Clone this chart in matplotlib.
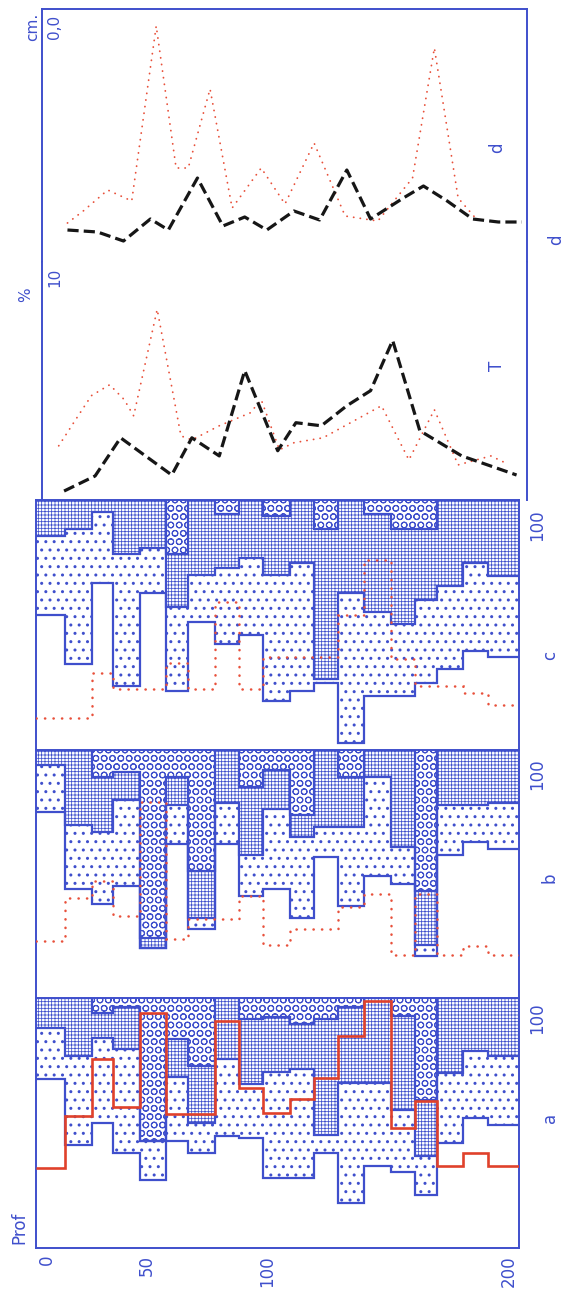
import matplotlib
matplotlib.use("Agg")
import matplotlib.pyplot as plt
from matplotlib.transforms import ScaledTranslation

W, H = 572, 1298
BLUE = "#3f4fcc"
RED = "#e0412b"
RED_DOT = "#e8503a"
BLACK = "#161616"

plt.rcParams["font.family"] = ["DejaVu Sans"]
plt.rcParams["hatch.linewidth"] = 0.7
plt.rcParams["hatch.color"] = BLUE

# depth limits of the sampled layers (cm)
edges = [0, 12, 23, 32, 43, 54, 63, 74, 84, 94, 105, 115, 125, 136, 147, 157, 166, 177, 187, 200]

# profile a: cumulative lower limits (%) of the circle, grid and dot classes
a_circ = [100, 100, 94.0, 96.3, 42.7, 83.8, 72.8, 100, 91.6, 92.6, 89.5, 91.6, 96.3, 100, 92.9, 59.4, 100, 100, 100]
a_grid = [88.2, 76.8, 84.2, 79.5, 42.7, 68.5, 50.1, 75.5, 65.5, 70.4, 71.5, 45.4, 66.2, 66.2, 55.4, 36.7, 70.2, 78.8, 76.9]
a_dots = [67.5, 41.4, 50.1, 38.0, 27.3, 42.7, 38.0, 44.7, 44.0, 28.0, 28.0, 38.0, 17.9, 32.7, 30.6, 21.3, 42.1, 52.1, 49.4]
a_red = [32, 53, 75.5, 56.5, 94, 53.5, 53.5, 91, 64, 54, 59.5, 68, 85, 99, 48, 59, 33, 38, 33]

# profile b
b_circ = [100, 100, 89.3, 91.3, 24.3, 89.3, 51.4, 100, 85.2, 92.0, 73.7, 100, 89.3, 100, 100, 43.2, 100, 100, 100]
b_grid = [94.0, 69.7, 67.0, 79.8, 20.0, 77.8, 32.4, 78.5, 57.5, 76.4, 64.9, 68.9, 68.9, 89.3, 60.8, 21.5, 77.8, 77.8, 78.5]
b_dots = [75.0, 44.0, 37.9, 45.3, 20.0, 62.2, 27.7, 62.2, 41.3, 44.0, 32.4, 56.8, 37.1, 49.3, 45.9, 16.8, 57.5, 62.9, 60.2]
b_red = [22.9, 40.5, 47.3, 33.0, 79.1, 23.6, 31.7, 31.7, 41.2, 21.2, 27.7, 27.7, 36.6, 41.9, 17.5, 41.9, 17.5, 20.9, 17.5]

# profile c
c_circ = [100, 100, 100, 100, 100, 78.3, 100, 94.5, 100, 93.8, 100, 88.4, 100, 94.5, 88.4, 88.4, 100, 100, 100]
c_grid = [85.7, 88.4, 95.1, 78.3, 81.0, 57.4, 70.2, 72.9, 76.9, 70.2, 74.9, 28.3, 62.8, 55.3, 50.6, 60.1, 65.5, 74.9, 69.5]
c_dots = [54.0, 34.4, 66.8, 25.6, 62.8, 23.6, 51.3, 42.5, 45.9, 19.6, 23.6, 27.0, 2.7, 21.6, 21.6, 27.0, 32.4, 39.8, 37.1]
c_red = [12.8, 12.8, 31.0, 24.3, 24.3, 35.0, 24.3, 59.4, 24.3, 37.1, 37.1, 37.1, 54.0, 76.1, 36.5, 25.6, 25.6, 22.9, 18.2]

# T curves (%)
t_depth = [9.1, 21.9, 32.4, 53.5, 61.8, 73.1, 83.6, 97.2, 104.7, 115.2, 125.7, 135.5, 144.6, 155.8, 173.1, 195.7]
t_black = [0.38, 1.02, 2.64, 1.06, 2.64, 1.87, 5.49, 2.09, 3.28, 3.15, 4.00, 4.64, 6.77, 2.94, 1.87, 1.06]
t_red_depth = [6.9, 15.2, 20.4, 27.9, 33.9, 37.8, 47.5, 57.3, 61.8, 73.1, 85.9, 90.4, 97.9, 103.9, 115.9,
               140.0, 151.3, 161.8, 171.6, 185.1, 191.2]
t_red = [2.30, 3.62, 4.43, 4.89, 4.26, 3.57, 8.09, 2.72, 2.55, 3.15, 3.70, 4.26, 2.13, 2.43, 2.64,
         4.00, 1.70, 3.83, 1.49, 1.87, 1.57]

# d curves (cm)
d_depth = [10.5, 22.9, 33.6, 44.7, 52.1, 64.1, 74.6, 83.6, 92.7, 103.9, 114.5, 125.7, 135.5, 149.0,
           157.3, 167.1, 177.6, 188.2, 197.9]
d_black = [2.21, 2.23, 2.32, 2.10, 2.21, 1.69, 2.17, 2.08, 2.21, 2.02, 2.11, 1.61, 2.10, 1.89,
           1.77, 1.92, 2.10, 2.13, 2.13]
d_red_depth = [10.5, 17.0, 27.1, 37.0, 47.1, 55.3, 60.3, 69.3, 78.4, 90.4, 100.2, 112.2, 125.0,
               138.5, 152.8, 161.8, 171.6, 179.1]
d_red = [2.14, 2.02, 1.81, 1.92, 0.17, 1.59, 1.59, 0.80, 1.99, 1.59, 1.95, 1.34, 2.07, 2.12,
         1.69, 0.39, 1.89, 2.10]

depth_ticks = [0, 50, 100, 200]


def box(x0, y0, x1, y1):
    return [x0 / W, 1 - y1 / H, (x1 - x0) / W, (y1 - y0) / H]


def ftext(x, y, s, size=12, **kw):
    fig.text(x / W, 1 - y / H, s, color=BLUE, fontsize=size, rotation=90,
             ha="center", va="center", **kw)


def frame(ax, bottom=False, top=True):
    ax.set_xlim(0, 200)
    ax.set_xticks([])
    ax.set_yticks([])
    for sp in ax.spines.values():
        sp.set_color(BLUE)
        sp.set_linewidth(1.4)
    ax.spines["bottom"].set_visible(bottom)
    ax.spines["top"].set_visible(top)


def layer(ax, upper, lower, hatch, hatch_lw):
    with plt.rc_context({"hatch.linewidth": hatch_lw}):
        ax.stairs(upper, edges, baseline=lower, fill=True, hatch=hatch, facecolor="white",
                  edgecolor=BLUE, linewidth=0, zorder=1)


def profile(ax, circ, grid, dots, red, red_style):
    frame(ax)
    ax.set_ylim(0, 100)
    top = [100] * len(circ)
    layer(ax, top, circ, "OO", 0.75)
    layer(ax, circ, grid, "+++++", 0.55)
    layer(ax, grid, dots, "..", 1.0)
    for lim in (circ, grid, dots):
        ax.stairs(lim, edges, baseline=None, color=BLUE, linewidth=1.6, zorder=2)
    if red_style == "solid":
        ax.stairs(red, edges, baseline=None, color=RED, linewidth=1.9, zorder=3)
    else:
        ax.stairs(red, edges, baseline=None, color=RED_DOT, linewidth=1.8,
                  linestyle=(0, (0.1, 3.3)), capstyle="round", zorder=3)


fig = plt.figure(figsize=(W / 100, H / 100), dpi=100)
fig.patch.set_facecolor("white")

# top box: d and T curves
ax_d = fig.add_axes(box(42, 9, 527, 262))
frame(ax_d, bottom=False, top=True)
ax_d.set_ylim(2.53, 0)
ax_d.plot(d_red_depth, d_red, color=RED_DOT, linewidth=1.3,
          linestyle=(0, (0.1, 3.6)), dash_capstyle="round", zorder=2)
ax_d.plot(d_depth, d_black, color=BLACK, linewidth=2.3,
          linestyle=(0, (3.5, 1.6)), zorder=3)

ax_t = fig.add_axes(box(42, 262, 527, 500))
frame(ax_t, bottom=False, top=False)
ax_t.set_ylim(0, 10.1)
ax_t.plot(t_red_depth, t_red, color=RED_DOT, linewidth=1.3,
          linestyle=(0, (0.1, 3.6)), dash_capstyle="round", zorder=2)
ax_t.plot(t_depth, t_black, color=BLACK, linewidth=2.3,
          linestyle=(0, (3.5, 1.6)), zorder=3)

# granulometric profiles
ax_c = fig.add_axes(box(36, 500, 519, 750))
profile(ax_c, c_circ, c_grid, c_dots, c_red, "dotted")
ax_b = fig.add_axes(box(36, 750, 519, 998))
profile(ax_b, b_circ, b_grid, b_dots, b_red, "dotted")
ax_a = fig.add_axes(box(36, 998, 519, 1248))
profile(ax_a, a_circ, a_grid, a_dots, a_red, "solid")
ax_a.spines["bottom"].set_visible(True)

# depth axis
ax_a.set_xticks(depth_ticks)
ax_a.set_xticklabels([str(v) for v in depth_ticks], rotation=90, color=BLUE, fontsize=12)
ax_a.tick_params(axis="x", length=0, pad=5)
for lab, dx in zip(ax_a.get_xticklabels(), [11, -10, -10, -10]):
    lab.set_transform(lab.get_transform() + ScaledTranslation(dx / 100, 0, fig.dpi_scale_trans))

# labels
ftext(19, 1228, "Prof")
for y100, yl, name in [(1018, 1118, "a"), (774, 878, "b"), (525, 655, "c")]:
    ftext(537, y100, "100")
    ftext(550, yl, name)
ftext(33, 27, "cm.", size=11)
ftext(54, 27, "0,0", size=11)
ftext(26, 295, "%", size=11)
ftext(55, 277, "10", size=11)
ftext(497, 148, "d", size=12)
ftext(497, 366, "T", size=12)
ftext(556, 240, "d", size=12)

fig.savefig("out.png", dpi=100, facecolor="white")
